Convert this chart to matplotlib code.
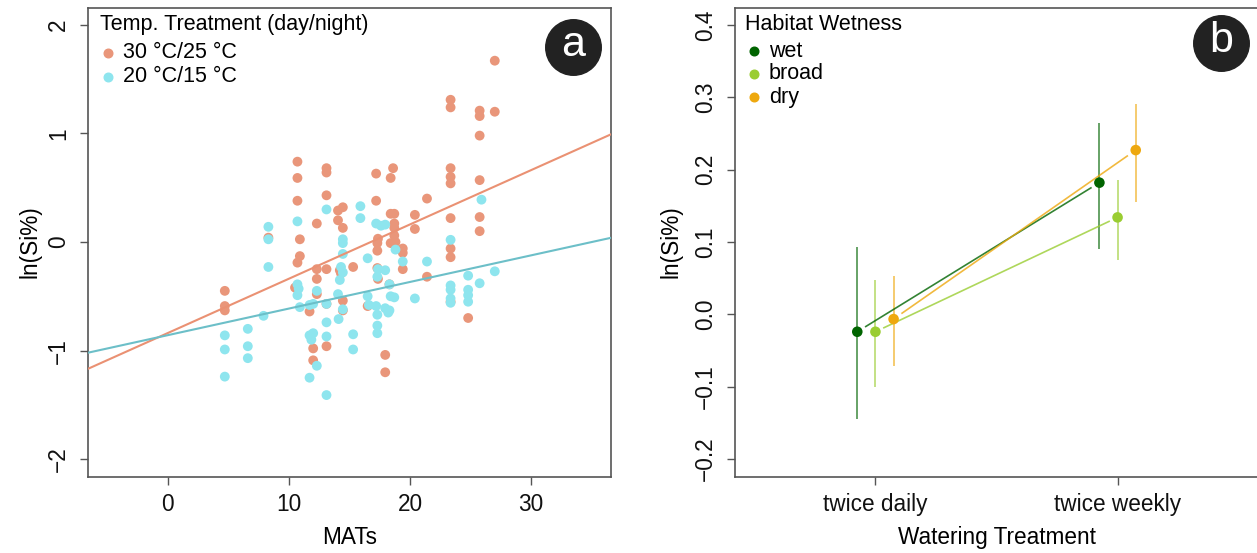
import numpy as np
import matplotlib.pyplot as plt

plt.rcParams['font.family'] = ['Liberation Sans', 'DejaVu Sans']
plt.rcParams['font.size'] = 15.5

# ---- panel a: ln(Si%) vs MATs, two temperature treatments ----
hot_x = [4.7, 4.7, 4.7, 8.3,
         10.7, 10.7, 10.7, 10.9, 10.9, 10.7, 10.5,
         12.3, 12.3, 12.3, 12.3, 11.7, 12.0, 12.0,
         13.1, 13.1, 13.1, 13.1, 13.1, 13.1,
         14.05, 14.45, 14.05, 14.45, 14.2, 14.3, 14.45, 14.45,
         15.3,
         17.2, 17.2, 17.35, 17.3, 17.3, 17.3, 17.35, 16.5,
         18.6, 18.4, 18.4, 18.7, 18.7, 18.7, 18.7, 18.4, 18.8, 18.3, 17.95, 17.95,
         19.4, 19.4, 19.4, 20.4, 20.4, 21.4, 21.4,
         23.35, 23.35, 23.35, 23.35, 23.35, 23.35, 23.35, 23.35, 23.35,
         24.8,
         25.75, 25.75, 25.75, 25.75, 25.75, 25.75,
         27.0, 27.0]
hot_y = [-0.45, -0.59, -0.63, 0.04,
         0.74, 0.59, 0.38, 0.025, -0.13, -0.19, -0.42,
         0.17, -0.25, -0.34, -0.48, -0.64, -0.98, -1.09,
         0.68, 0.64, 0.43, -0.25, -0.57, -0.96,
         0.29, 0.32, 0.20, 0.13, -0.26, -0.29, -0.54, -0.63,
         -0.23,
         0.63, 0.38, 0.03, -0.01, -0.08, -0.24, -0.34, -0.59,
         0.68, 0.59, 0.26, 0.26, 0.17, 0.13, 0.06, -0.01, 0.00, -0.39, -1.04, -1.20,
         -0.06, -0.10, -0.25, 0.25, 0.12, 0.40, -0.32,
         1.31, 1.24, 0.68, 0.60, 0.54, 0.22, -0.06, -0.14, -0.55,
         -0.70,
         1.21, 1.16, 0.98, 0.57, 0.23, 0.10,
         1.67, 1.20]

cool_x = [4.7, 4.7, 4.7, 6.6, 6.6, 6.6,
          8.3, 8.3, 8.3, 7.9,
          10.7, 10.7, 10.8, 10.7, 10.9,
          12.3, 11.7, 12.0, 11.7, 12.0, 11.85, 12.3, 11.7,
          13.1, 13.1, 13.1, 13.1, 13.1,
          14.45, 14.45, 14.45, 14.3, 14.45, 14.2, 14.05, 14.45, 14.1,
          15.3, 15.3, 15.9, 15.9,
          16.5, 16.5, 16.6,
          17.2, 17.6, 17.35, 17.3, 17.2, 17.3, 17.3, 17.3,
          17.95, 17.95, 18.3, 18.4, 18.7, 17.95, 18.3, 18.2, 18.8, 19.4,
          20.4, 21.4,
          23.35, 23.35, 23.35, 23.35, 23.35,
          24.8, 24.8, 24.8, 24.8,
          25.9, 25.75, 27.0]
cool_y = [-0.86, -0.99, -1.24, -0.80, -0.96, -1.07,
          0.14, 0.025, -0.23, -0.68,
          0.19, -0.39, -0.43, -0.49, -0.60,
          -0.45, -0.58, -0.57, -0.86, -0.84, -0.90, -1.14, -1.25,
          0.30, -0.57, -0.74, -0.87, -1.41,
          0.025, -0.01, -0.11, -0.23, -0.28, -0.35, -0.48, -0.62, -0.71,
          -0.85, -0.99, 0.33, 0.22,
          -0.15, -0.50, -0.58,
          0.17, 0.15, -0.25, -0.32, -0.59, -0.67, -0.77, -0.84,
          0.16, -0.26, -0.39, -0.50, -0.51, -0.61, -0.63, -0.65, -0.07, -0.18,
          -0.52, -0.18,
          0.02, -0.40, -0.44, -0.52, -0.56,
          -0.31, -0.44, -0.49, -0.55,
          0.39, -0.38, -0.27]

# fitted lines (intercept, slope)
hot_fit = (-0.838, 0.050)
cool_fit = (-0.858, 0.0245)

temp_labels = ['30 °C/25 °C', '20 °C/15 °C']
xticks_a = [0, 10, 20, 30]
yticks_a = [-2, -1, 0, 1, 2]
ytick_labels_a = ['\u22122', '\u22121', '0', '1', '2']

# ---- panel b: ln(Si%) by watering treatment and habitat wetness ----
watering = ['twice daily', 'twice weekly']
habitats = ['wet', 'broad', 'dry']
wet_mean = [-0.024, 0.182]
wet_lo = [-0.145, 0.091]
wet_hi = [0.093, 0.265]
broad_mean = [-0.024, 0.134]
broad_lo = [-0.101, 0.075]
broad_hi = [0.047, 0.186]
dry_mean = [-0.0065, 0.227]
dry_lo = [-0.071, 0.155]
dry_hi = [0.053, 0.291]
yticks_b = [-0.2, -0.1, 0.0, 0.1, 0.2, 0.3, 0.4]
ytick_labels_b = ['\u22120.2', '\u22120.1', '0.0', '0.1', '0.2', '0.3', '0.4']

salmon = '#E9967A'
cyan = '#8EE5EE'
hab_cols = ['#006400', '#9ACD32', '#EEA80E']
frame_col = '#555555'
axis_fs = 16.3

W, H = 1257, 553
fig = plt.figure(figsize=(W / 100, H / 100), dpi=100)
ax1 = fig.add_axes([88 / W, 1 - 476.5 / H, 523 / W, 469 / H])
ax2 = fig.add_axes([735 / W, 1 - 476.5 / H, 523 / W, 469 / H])


def style_axes(ax):
    for s in ax.spines.values():
        s.set_color(frame_col)
        s.set_linewidth(1.2)
    ax.tick_params(length=5.8, width=1.0, color=frame_col, labelcolor='#111111',
                   labelsize=axis_fs)
    ax.tick_params(axis='x', pad=6)
    ax.tick_params(axis='y', pad=7)
    for lab in ax.get_yticklabels():
        lab.set_rotation(90)
        lab.set_va('center')
    ax.xaxis.label.set_va('center')
    ax.yaxis.label.set_va('center')
    ax.xaxis.label.set_size(axis_fs)
    ax.yaxis.label.set_size(axis_fs)


def badge(ax, letter, xa, ya):
    ax.plot([xa], [ya], 'o', ms=40, color='#222222', transform=ax.transAxes,
            clip_on=False, zorder=10)
    ax.text(xa, ya + 0.005, letter, transform=ax.transAxes, color='white',
            fontsize=31, ha='center', va='center', zorder=11)


# panel a
ax1.scatter(hot_x, hot_y, s=50, color=salmon, edgecolors='none', zorder=2)
ax1.scatter(cool_x, cool_y, s=50, color=cyan, edgecolors='none', zorder=3)
ax1.set_xlim(-6.6, 36.6)
ax1.set_ylim(-2.16, 2.16)
xl = np.array(ax1.get_xlim())
ax1.plot(xl, hot_fit[0] + hot_fit[1] * xl, color='#EA9173', lw=1.5, zorder=4)
ax1.plot(xl, cool_fit[0] + cool_fit[1] * xl, color='#6CBFC8', lw=1.5, zorder=4)
ax1.set_xticks(xticks_a)
ax1.set_yticks(yticks_a)
ax1.set_yticklabels(ytick_labels_a)
ax1.set_xlabel('MATs')
ax1.set_ylabel('ln(Si%)')
ax1.xaxis.set_label_coords(0.5, -0.129)
ax1.yaxis.set_label_coords(-0.111, 0.5)
style_axes(ax1)

ax1.text(0.023, 0.963, 'Temp. Treatment (day/night)', transform=ax1.transAxes,
         ha='left', va='center')
for yy, col, lab in zip([0.903, 0.852], [salmon, cyan], temp_labels):
    ax1.plot([0.038], [yy], 'o', ms=6.2, color=col, transform=ax1.transAxes)
    ax1.text(0.067, yy, lab, transform=ax1.transAxes, ha='left', va='center')
badge(ax1, 'a', 0.928, 0.916)

# panel b
offsets = [-0.075, 0.0, 0.075]
means = [wet_mean, broad_mean, dry_mean]
los = [wet_lo, broad_lo, dry_lo]
his = [wet_hi, broad_hi, dry_hi]
xpos = np.array([1, 2])
gap = 0.035
for off, m, lo, hi, col in zip(offsets, means, los, his, hab_cols):
    x = xpos + off
    ax2.vlines(x, lo, hi, color=col, alpha=0.6, lw=1.4, zorder=2)
    x0 = x[0] + gap * (x[1] - x[0])
    x1 = x[1] - gap * (x[1] - x[0])
    y0 = m[0] + gap * (m[1] - m[0])
    y1 = m[1] - gap * (m[1] - m[0])
    ax2.plot([x0, x1], [y0, y1], color=col, alpha=0.8, lw=1.2, zorder=3)
    ax2.scatter(x, m, s=58, color=col, edgecolors='none', zorder=4)

ax2.set_xlim(0.42, 2.58)
ax2.set_ylim(-0.224, 0.424)
ax2.set_xticks(xpos)
ax2.set_xticklabels(watering)
ax2.set_yticks(yticks_b)
ax2.set_yticklabels(ytick_labels_b)
ax2.set_xlabel('Watering Treatment')
ax2.set_ylabel('ln(Si%)')
ax2.xaxis.set_label_coords(0.5, -0.129)
ax2.yaxis.set_label_coords(-0.122, 0.5)
style_axes(ax2)

ax2.text(0.019, 0.963, 'Habitat Wetness', transform=ax2.transAxes,
         ha='left', va='center')
for yy, col, lab in zip([0.907, 0.859, 0.809], hab_cols, habitats):
    ax2.plot([0.036], [yy], 'o', ms=6.2, color=col, transform=ax2.transAxes)
    ax2.text(0.065, yy, lab, transform=ax2.transAxes, ha='left', va='center')
badge(ax2, 'b', 0.929, 0.924)

fig.savefig('out.png', dpi=100)
